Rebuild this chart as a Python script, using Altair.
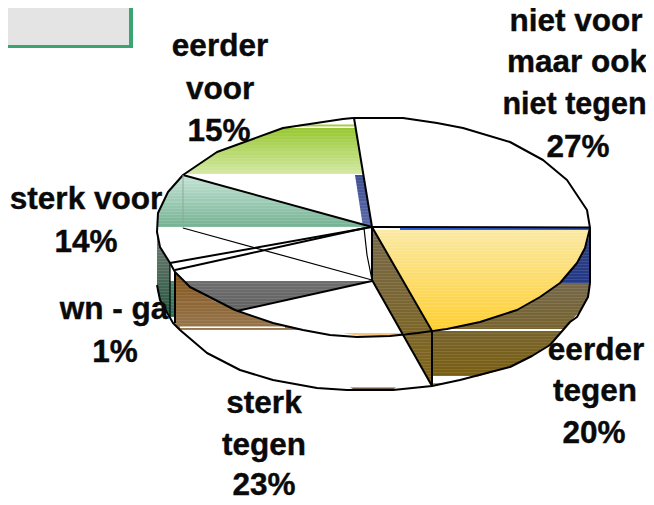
import altair as alt
import pandas as pd

W, H = 638, 489
X = alt.Scale(domain=[8, 8 + W], range=[0, W], nice=False, zero=False)
Y = alt.Scale(domain=[8, 8 + H], range=[0, H], nice=False, zero=False)

# filled regions: (y rows, left x, right x), gradient end colours
GREEN = ([128, 134, 140, 146, 152, 163, 174], [283, 266, 250, 232, 217, 199, 185],
         [355.5, 356.5, 357.5, 358.5, 359.5, 361, 363], ["#98c832", "#d2e8a0"])
GREEN2 = ([124.5, 126.5], [300, 296], [354, 354.5], ["#a4d040", "#a4d040"])
SLIVER = ([175, 227], [355, 363], [363, 372], ["#3f4f90", "#5a6aa8"])
TEAL = ([175, 183, 192, 203, 213, 227], [183, 175, 168, 162, 158, 157], [183.5, 212, 245, 284, 321, 372],
        ["#c4e3d6", "#78b495"])
BLUE_LINE = ([228, 230.5], [400, 400], [590, 590], ["#2a62f0", "#2a62f0"])
YELLOW = ([230, 240, 248, 263, 283, 297, 310, 322, 329, 331], [374, 380, 384, 393, 405, 413, 420, 427, 431, 432],
          [590, 588, 585, 577, 560, 540, 517, 480, 447, 433], ["#fbe9a4", "#ffcf30"])
NAVY = ([232, 240, 248, 263, 283], [590, 588, 585, 577, 560], [590, 590, 590, 590, 590], ["#30407f", "#243a88"])
WALL_A = ([228, 280, 331, 386], [372, 372, 401, 432], [372.5, 402.3, 432, 432], ["#77694a", "#7f6418"])
WALL_B = ([283, 297, 310, 322, 329, 331, 345, 356, 367, 376.5],
          [560, 540, 517, 480, 447, 432, 432, 432, 432, 432],
          [590, 588, 581, 570, 564, 562, 550, 532, 510, 478], ["#75684a", "#7a5f12"])
TIP = ([383, 386], [433, 433], [447, 433], ["#c8a020", "#c8a020"])
GRAY = ([281, 287, 300, 311], [183, 190, 212, 237], [372, 345, 286.5, 238], ["#6e6e6e", "#626262"])
BROWN = ([272, 281, 287, 300, 310, 323, 327, 330], [175, 175, 175, 175, 175, 175, 176, 180],
         [175, 183, 190, 212, 235, 273, 290, 303], ["#85551a", "#96764e"])
DARK = ([235, 247, 263, 290, 300, 316], [157, 157, 157, 157, 160, 170], [158, 160, 170, 170, 170, 170],
        ["#717c74", "#28573f"])
TEAL_DARK = ([281, 317], [170, 170], [175, 175], ["#4c8c74", "#2f7058"])
ORANGE = ([333, 336], [342, 360], [420, 396], ["#f8c680", "#f8c680"])
BASE = ([387.5, 390], [350, 355], [396, 392], ["#6a5a44", "#6a5a44"])
SHAPES = [GREEN, GREEN2, SLIVER, TEAL, BLUE_LINE, YELLOW, NAVY, WALL_A, WALL_B, TIP, GRAY, BROWN, DARK,
          TEAL_DARK, ORANGE, BASE]

# plain rectangles: x, x2, y, y2, colour
BOX_X = [8, 8, 432.5, 180, 433]
BOX_X2 = [133, 129, 565, 285, 470]
BOX_Y = [8, 8, 329, 326.5, 376]
BOX_Y2 = [48, 45, 331, 328, 379]
BOX_C = ["#3aa571", "#e4e4e4", "#ffffff", "#ffffff", "#ffffff"]

# outlines
TOP_X = [353, 343, 283, 250, 217, 183, 168, 158, 157, 160, 170, 175, 190, 235, 273, 303, 330, 357, 390, 418,
         432, 447, 480, 517, 540, 560, 577, 585, 590, 587, 567, 543, 510, 463, 437, 403, 353]
TOP_Y = [118, 119, 128, 140, 152, 175, 192, 213, 232, 247, 263, 272, 287, 310, 323, 330, 335, 337, 336, 333,
         331, 329, 322, 310, 297, 283, 263, 248, 228, 210, 180, 160, 142, 128, 123, 118, 118]
LOW_X = [157, 160, 173, 180, 207, 240, 273, 317, 347, 393, 432, 460, 510, 532, 550, 570, 577, 588, 590]
LOW_Y = [285, 300, 323, 330, 353, 370, 380, 388, 390, 390, 386, 380, 367, 356, 345, 322, 317, 297, 283]
THICK = [
    ([354, 372], [118, 227]), ([372, 590], [227, 227.5]), ([372, 432], [227, 331]),
    ([183, 372], [175, 227]), ([170, 372], [263, 227]), ([372, 372], [227, 280]),
    ([372, 432], [280, 386]), ([432, 432], [331, 386]), ([590, 590], [228, 283]),
    ([175, 175], [272, 323]), ([372, 237], [281, 311]), ([175, 365], [270, 228]),
]
THIN = [([183, 372], [228, 280]), ([364, 367, 372], [228, 255, 280]), ([170, 170], [263, 317])]
FAINT = [([183, 183], [175, 228])]

# labels: text, centre x, baseline y, font size
LABEL_T = ["eerder", "voor", "15%", "niet voor", "maar ook", "niet tegen", "27%", "sterk voor", "14%", "wn - ga",
           "1%", "sterk", "tegen", "23%", "eerder", "tegen", "20%"]
LABEL_X = [220, 220, 219, 576, 577, 574.5, 578, 86, 86, 114, 115, 264, 264, 264, 596, 595, 594]
LABEL_Y = [56, 99, 141, 31, 72, 114, 157, 209, 252, 319, 362, 413, 455, 495, 360, 401, 443]
LABEL_S = [31.5, 31.5, 31.5, 31.5, 31.5, 30.5, 31.5, 31.5, 31.5, 31.5, 31.5, 31.5, 31.5, 31.5, 31.5, 31.5, 31.5]


def stripes(c0, c1, rows):
    """Fine horizontal banding, the way the picture shows its gradient fills."""
    h = max(rows) - min(rows)
    a = [int(c0[i:i + 2], 16) for i in (1, 3, 5)]
    b = [int(c1[i:i + 2], 16) for i in (1, 3, 5)]
    if h < 12:
        n = 1
    else:
        n = int(h // 3)
    stops = []
    for k in range(n):
        t = k / max(n - 1, 1)
        base = [u + (v - u) * t for u, v in zip(a, b)]
        hi = "#%02x%02x%02x" % tuple(int(min(255, c + (255 - c) * 0.10)) for c in base)
        lo = "#%02x%02x%02x" % tuple(int(c) for c in base)
        s, m, e = k / n, (k + 0.66) / n, (k + 1) / n
        stops += [alt.GradientStop(offset=s, color=lo), alt.GradientStop(offset=m, color=lo),
                  alt.GradientStop(offset=m, color=hi), alt.GradientStop(offset=e, color=hi)]
    return stops


layers = []
rects = pd.DataFrame(dict(x=BOX_X, x2=BOX_X2, y=BOX_Y, y2=BOX_Y2, c=BOX_C))
for rows, left, right, cols in SHAPES:
    df = pd.DataFrame(dict(y=rows, x=left, x2=right))
    grad = alt.Gradient(gradient="linear", x1=0, x2=0, y1=0, y2=1, stops=stripes(cols[0], cols[1], rows))
    layers.append(alt.Chart(df).mark_area(orient="horizontal", color=grad).encode(
        y=alt.Y("y:Q", scale=Y, axis=None),
        x=alt.X("x:Q", scale=X, axis=None),
        x2="x2:Q",
    ))
layers.append(alt.Chart(rects).mark_rect().encode(
    x=alt.X("x:Q", scale=X, axis=None), x2="x2:Q",
    y=alt.Y("y:Q", scale=Y, axis=None), y2="y2:Q",
    color=alt.Color("c:N", scale=None),
))


def line_layer(paths, width, color="#000000"):
    recs = []
    for k, (xs, ys) in enumerate(paths):
        recs += [dict(k=k, i=i, x=a, y=b) for i, (a, b) in enumerate(zip(xs, ys))]
    return alt.Chart(pd.DataFrame(recs)).mark_line(color=color, strokeWidth=width, strokeJoin="round").encode(
        x=alt.X("x:Q", scale=X, axis=None),
        y=alt.Y("y:Q", scale=Y, axis=None),
        detail="k:N",
        order="i:Q",
    )


layers.append(line_layer([(TOP_X, TOP_Y), (LOW_X, LOW_Y)] + THICK, 2.0))
layers.append(line_layer(THIN, 1.2))
layers.append(line_layer(FAINT, 1.0, "#8fa89c"))
layers.append(alt.Chart(pd.DataFrame(dict(t=LABEL_T, x=LABEL_X, y=LABEL_Y, s=LABEL_S))).mark_text(
    font="Liberation Sans", fontWeight="bold", align="center", baseline="alphabetic",
    color="#0a0a0a", stroke="#0a0a0a", strokeWidth=0.4
).encode(
    x=alt.X("x:Q", scale=X, axis=None),
    y=alt.Y("y:Q", scale=Y, axis=None),
    text="t:N",
    size=alt.Size("s:Q", scale=None),
))

chart = alt.layer(*layers).properties(width=W, height=H, padding=0, autosize=alt.AutoSizeParams(type="none")).configure_view(stroke=None)
chart.save("out.html", embed_options={"renderer": "svg", "actions": False})
